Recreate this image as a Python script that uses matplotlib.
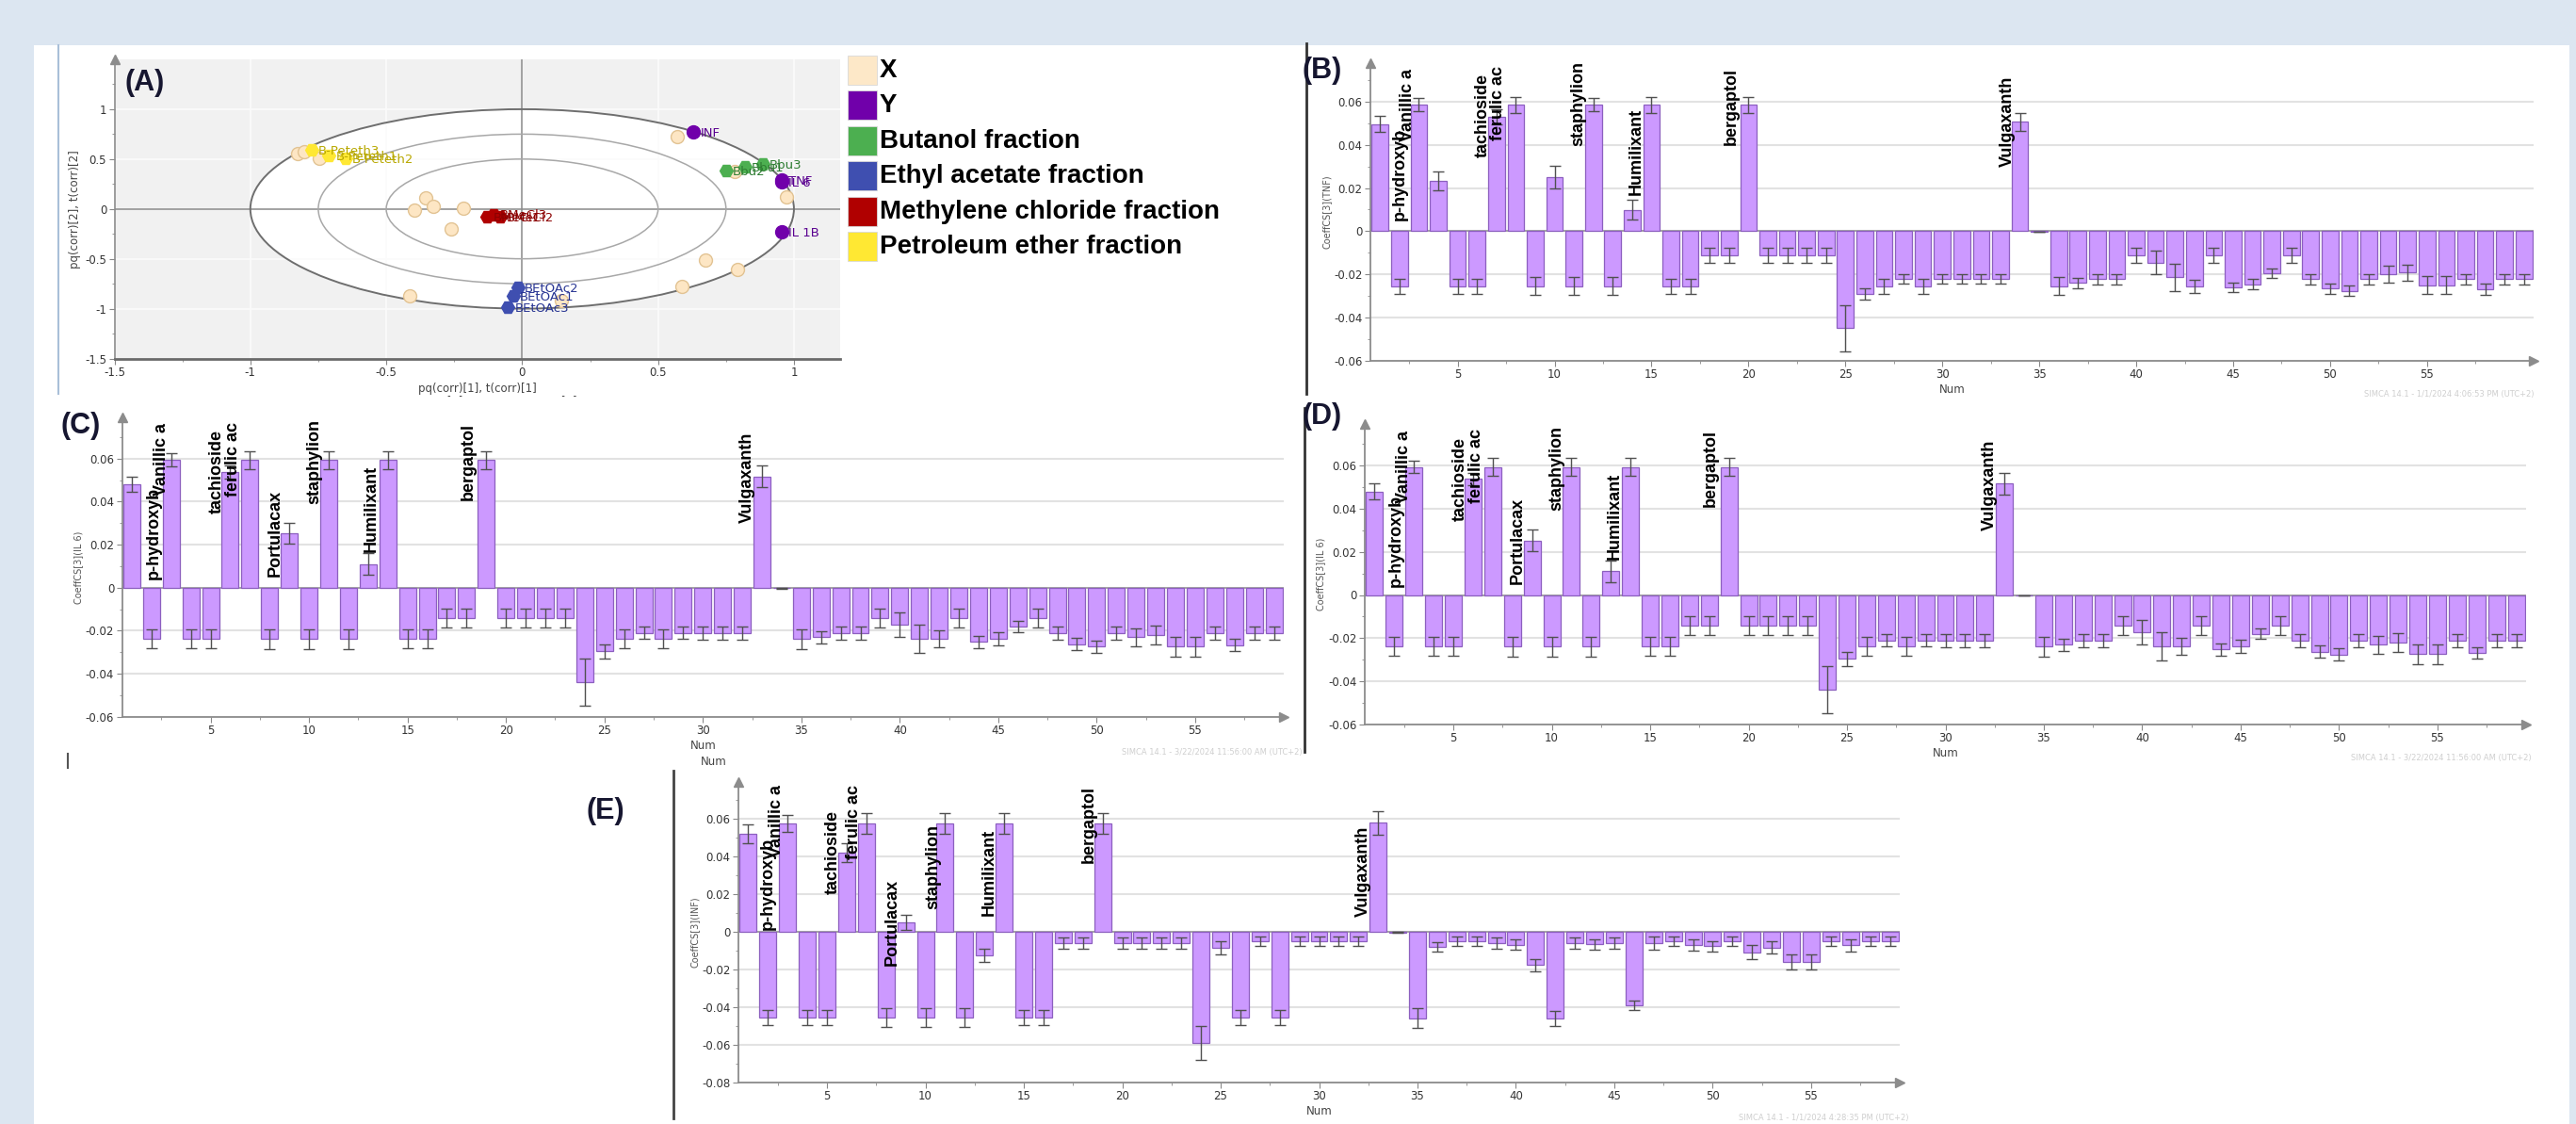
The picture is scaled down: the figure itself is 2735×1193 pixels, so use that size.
import numpy as np
import matplotlib
matplotlib.use('Agg')
import matplotlib.pyplot as plt
from matplotlib.patches import Ellipse, Rectangle
from matplotlib.lines import Line2D
from matplotlib.transforms import Bbox, TransformedBbox
from matplotlib.ticker import MultipleLocator, FixedLocator, FuncFormatter

plt.rcParams['axes.unicode_minus'] = False

# ---------------- panel A : loadings / scores (corr scaled) ----------------
x_load_x = [-0.826, -0.803, -0.748, 0.570, 0.783, 0.972, -0.354, -0.397, -0.327,
            -0.217, -0.262, 0.675, 0.792, 0.588, -0.414, 0.143]
x_load_y = [0.558, 0.574, 0.511, 0.726, 0.379, 0.120, 0.110, -0.010, 0.030,
            0.003, -0.205, -0.511, -0.603, -0.779, -0.868, -0.915]

y_names = ['INF', 'TNF', 'IL 6', 'IL 1B']
y_load_x = [0.631, 0.954, 0.954, 0.955]
y_load_y = [0.773, 0.292, 0.270, -0.230]

bu_names = ['Bbu2', 'Bbu1', 'Bbu3']
bu_x = [0.750, 0.820, 0.885]
bu_y = [0.385, 0.420, 0.448]

ea_names = ['BEtOAc2', 'BEtOAc1', 'BEtOAc3']
ea_x = [-0.015, -0.033, -0.052]
ea_y = [-0.789, -0.868, -0.987]

mc_names = ['BMeCl1', 'BMeCl3', 'BMeCl2']
mc_x = [-0.130, -0.105, -0.080]
mc_y = [-0.075, -0.055, -0.080]

pe_names = ['B-Peteth3', 'B-Peteth1', 'B-Peteth2']
pe_x = [-0.775, -0.710, -0.650]
pe_y = [0.593, 0.536, 0.510]

leg_names = ['X', 'Y', 'Butanol fraction', 'Ethyl acetate fraction',
             'Methylene chloride fraction', 'Petroleum ether fraction']
leg_colors = ['#fde8c8', '#7000aa', '#4caf50', '#3f4fb0', '#b00000', '#ffe833']

# ---------------- coefficient panels ----------------
tnf = [0.0497, -0.0255, 0.0586, 0.0233, -0.0255, -0.0255, 0.0531, 0.0586, -0.0255, 0.0252,
       -0.0255, 0.0586, -0.0255, 0.0099, 0.0586, -0.0255, -0.0255, -0.0113, -0.0113, 0.0586,
       -0.0113, -0.0113, -0.0113, -0.0113, -0.0450, -0.0290, -0.0255, -0.0223, -0.0255, -0.0223,
       -0.0223, -0.0223, -0.0223, 0.0506, -0.0003, -0.0255, -0.0240, -0.0223, -0.0223, -0.0113,
       -0.0145, -0.0214, -0.0255, -0.0113, -0.0260, -0.0247, -0.0196, -0.0113, -0.0223, -0.0266,
       -0.0276, -0.0223, -0.0200, -0.0192, -0.0250, -0.0250, -0.0223, -0.0270, -0.0223, -0.0223]
tnf_err = [0.0039, 0.0035, 0.0030, 0.0044, 0.0035, 0.0035, 0.0035, 0.0037, 0.0042, 0.0052,
           0.0042, 0.0030, 0.0042, 0.0047, 0.0037, 0.0035, 0.0035, 0.0035, 0.0035, 0.0037,
           0.0035, 0.0035, 0.0035, 0.0035, 0.0106, 0.0027, 0.0035, 0.0022, 0.0035, 0.0022,
           0.0022, 0.0022, 0.0022, 0.0041, 0.0001, 0.0041, 0.0024, 0.0024, 0.0024, 0.0035,
           0.0055, 0.0062, 0.0031, 0.0035, 0.0023, 0.0024, 0.0023, 0.0036, 0.0024, 0.0024,
           0.0025, 0.0024, 0.0039, 0.0036, 0.0042, 0.0042, 0.0024, 0.0025, 0.0024, 0.0024]

il6 = [0.0480, -0.0238, 0.0593, -0.0238, -0.0238, 0.0537, 0.0593, -0.0238, 0.0253, -0.0238,
       0.0593, -0.0238, 0.0110, 0.0593, -0.0238, -0.0238, -0.0142, -0.0142, 0.0593, -0.0142,
       -0.0142, -0.0142, -0.0142, -0.0439, -0.0296, -0.0238, -0.0210, -0.0238, -0.0210, -0.0212,
       -0.0212, -0.0212, 0.0516, -0.0003, -0.0238, -0.0230, -0.0212, -0.0212, -0.0142, -0.0173,
       -0.0238, -0.0238, -0.0142, -0.0253, -0.0238, -0.0180, -0.0142, -0.0212, -0.0263, -0.0275,
       -0.0212, -0.0230, -0.0220, -0.0274, -0.0274, -0.0212, -0.0268, -0.0212, -0.0212]
il6_err = [0.0035, 0.0042, 0.0030, 0.0042, 0.0042, 0.0030, 0.0042, 0.0046, 0.0050, 0.0046,
           0.0042, 0.0046, 0.0050, 0.0042, 0.0042, 0.0042, 0.0045, 0.0045, 0.0042, 0.0045,
           0.0045, 0.0045, 0.0045, 0.0110, 0.0033, 0.0042, 0.0028, 0.0042, 0.0028, 0.0030,
           0.0030, 0.0030, 0.0050, 0.0001, 0.0046, 0.0028, 0.0030, 0.0030, 0.0045, 0.0057,
           0.0064, 0.0038, 0.0045, 0.0030, 0.0030, 0.0025, 0.0045, 0.0030, 0.0028, 0.0028,
           0.0030, 0.0042, 0.0042, 0.0046, 0.0046, 0.0030, 0.0028, 0.0030, 0.0030]

inf = [0.0520, -0.0455, 0.0575, -0.0455, -0.0455, 0.0420, 0.0575, -0.0455, 0.0050, -0.0455,
       0.0575, -0.0455, -0.0123, 0.0575, -0.0455, -0.0455, -0.0060, -0.0060, 0.0575, -0.0060,
       -0.0060, -0.0060, -0.0060, -0.0590, -0.0085, -0.0455, -0.0050, -0.0455, -0.0050, -0.0050,
       -0.0050, -0.0050, 0.0578, -0.0003, -0.0458, -0.0080, -0.0050, -0.0050, -0.0060, -0.0068,
       -0.0177, -0.0458, -0.0060, -0.0067, -0.0060, -0.0388, -0.0060, -0.0050, -0.0072, -0.0077,
       -0.0050, -0.0108, -0.0083, -0.0160, -0.0160, -0.0050, -0.0072, -0.0050, -0.0050]
inf_err = [0.0052, 0.0040, 0.0045, 0.0040, 0.0040, 0.0050, 0.0053, 0.0050, 0.0040, 0.0050,
           0.0053, 0.0050, 0.0035, 0.0053, 0.0040, 0.0040, 0.0030, 0.0030, 0.0053, 0.0030,
           0.0030, 0.0030, 0.0030, 0.0088, 0.0033, 0.0040, 0.0025, 0.0040, 0.0025, 0.0025,
           0.0025, 0.0025, 0.0063, 0.0001, 0.0053, 0.0025, 0.0025, 0.0025, 0.0030, 0.0028,
           0.0033, 0.0040, 0.0030, 0.0029, 0.0028, 0.0025, 0.0033, 0.0025, 0.0030, 0.0029,
           0.0025, 0.0036, 0.0033, 0.0039, 0.0039, 0.0025, 0.0031, 0.0025, 0.0025]

names_b = ['p-hydroxyb', 'Vanillic a', 'tachioside', 'ferulic ac', 'staphylion',
           'Humilixant', 'bergaptol', 'Vulgaxanth']
names_b_x = [2.0, 2.4, 6.28, 7.08, 11.24, 14.2, 19.1, 33.36]
names_b_y = [0.005, 0.0415, 0.0342, 0.0422, 0.0393, 0.0167, 0.040, 0.0298]

names_c = ['p-hydroxyb', 'Vanillic a', 'tachioside', 'ferulic ac', 'Portulacax',
           'staphylion', 'Humilixant', 'bergaptol', 'Vulgaxanth']
names_c_x = [2.1, 2.5, 5.34, 6.15, 8.27, 10.26, 13.18, 18.1, 32.24]
names_c_y = [0.0037, 0.0427, 0.0344, 0.0424, 0.0051, 0.039, 0.0165, 0.0407, 0.030]

names_e_x = [2.0, 2.43, 5.3, 6.36, 8.3, 10.42, 13.26, 18.33, 32.26]
names_e_y = [0.0012, 0.0395, 0.0198, 0.0387, -0.018, 0.012, 0.0087, 0.0367, 0.0078]

W, H = 2735, 1193
fig = plt.figure(figsize=(W / 100, H / 100), dpi=100, facecolor='#dce6f1')


def box(l, t, r, b):
    return [l / W, 1 - b / H, (r - l) / W, (b - t) / H]


def fx(x):
    return x / W


def fy(y):
    return 1 - y / H


def fig_line(x0, y0, x1, y1, color, lw):
    fig.add_artist(Line2D([fx(x0), fx(x1)], [fy(y0), fy(y1)], transform=fig.transFigure,
                          color=color, lw=lw))


fmt = FuncFormatter(lambda v, p: f'{round(v, 3) + 0:g}')
BOLD = dict(family='Liberation Sans', fontweight='bold')

# white sheet
fig.patches.append(Rectangle((fx(36), 0), fx(2728) - fx(36), fy(48),
                             transform=fig.transFigure, facecolor='white',
                             edgecolor='none', zorder=-10))

# ---------------- panel A ----------------
axA = fig.add_axes(box(121.5, 63, 892, 380.5))
axA.set_facecolor('#f1f1f1')
axA.set_xlim(-1.5, 1.17)
axA.set_ylim(-1.5, 1.5)
axA.add_patch(Ellipse((0, 0), 2, 2, facecolor='white', edgecolor='none', zorder=0.4))
axA.grid(True, which='major', color='#fbfbfb', lw=1.2, zorder=0.3)
axA.set_axisbelow(True)
for r, c, lw in [(1.0, '#6e6e6e', 1.4), (0.75, '#a8a8a8', 1.1), (0.5, '#a8a8a8', 1.1)]:
    axA.add_patch(Ellipse((0, 0), 2 * r, 2 * r, facecolor='none', edgecolor=c, lw=lw, zorder=2))
axA.axhline(0, color='#8a8a8a', lw=1.1, zorder=1.5)
axA.axvline(0, color='#8a8a8a', lw=1.1, zorder=1.5)

axA.plot(x_load_x, x_load_y, 'o', ms=10, mfc='#fde6c4', mec='#e2c393', mew=1, zorder=3)

for xs, ys, nms, col, tcol, mk in [
        (pe_x, pe_y, pe_names, '#ffe833', '#b8a800', 'H'),
        (mc_x, mc_y, mc_names, '#b00000', '#8b0000', 'H'),
        (bu_x, bu_y, bu_names, '#4caf50', '#2e7d32', 'H'),
        (ea_x, ea_y, ea_names, '#3f4fb0', '#283593', 'H'),
        (y_load_x, y_load_y, y_names, '#7000aa', '#5a0090', 'o')]:
    axA.plot(xs, ys, mk, ms=10, mfc=col, mec=col, zorder=4)
    for x, y, n in zip(xs, ys, nms):
        axA.annotate(n, (x, y), xytext=(5, -1), textcoords='offset points', ha='left',
                     va='center', fontsize=9.5, color=tcol, zorder=5)

axA.xaxis.set_major_locator(FixedLocator([-1.5, -1, -0.5, 0, 0.5, 1]))
axA.xaxis.set_minor_locator(MultipleLocator(0.25))
axA.yaxis.set_major_locator(FixedLocator([-1.5, -1, -0.5, 0, 0.5, 1]))
axA.yaxis.set_minor_locator(FixedLocator(np.arange(-1.25, 1.3, 0.5)))
axA.xaxis.set_major_formatter(fmt)
axA.yaxis.set_major_formatter(fmt)
axA.tick_params(which='major', length=4, color='#888', labelsize=8.5, labelcolor='#333', pad=2)
axA.tick_params(which='minor', length=2, color='#888')
for s in ['top', 'right']:
    axA.spines[s].set_visible(False)
axA.spines['left'].set_color('#8c8c8c')
axA.spines['left'].set_linewidth(1.2)
axA.spines['bottom'].set_color('#6a6a6a')
axA.spines['bottom'].set_linewidth(2)
axA.plot([0], [1], marker='^', color='#8c8c8c', ms=7, transform=axA.transAxes, clip_on=False)
axA.set_xlabel('pq(corr)[1], t(corr)[1]', fontsize=8.5, color='#444', labelpad=3)
axA.set_ylabel('pq(corr)[2], t(corr)[2]', fontsize=8.5, color='#444', labelpad=3)
r2x = fig.text(fx(554), fy(426), 'R2X[1] = 0.34          R2X[2] = 0.24', ha='center',
               va='center', fontsize=8.5, color='#444')
r2x.set_clip_box(TransformedBbox(Bbox([[0, fy(421)], [1, 1]]), fig.transFigure))
r2x.set_clip_on(True)
fig.text(fx(154), fy(88), '(A)', ha='center', va='center', fontsize=22, color='#161630', **BOLD)

# legend
for i, (nm, col) in enumerate(zip(leg_names, leg_colors)):
    top = 59 + i * 37.4
    fig.patches.append(Rectangle((fx(900), fy(top + 31)), 31 / W, 31 / H,
                                 transform=fig.transFigure, facecolor=col,
                                 edgecolor='#d8d8d8', lw=0.6))
    fig.text(fx(934), fy(top + 16), nm, ha='left', va='center', fontsize=20, color='black', **BOLD)


# ---------------- coefficient panels ----------------
def coef_panel(rect, vals, errs, ylim, ylabel, names, nx, ny, stamp, stamp_xy):
    ax = fig.add_axes(rect)
    num = np.arange(1, len(vals) + 1)
    ax.bar(num, vals, width=0.86, color='#cc99ff', edgecolor='#8c5fbf', linewidth=0.9, zorder=3)
    ax.errorbar(num, vals, yerr=errs, fmt='none', ecolor='#505050', elinewidth=1,
                capsize=4, capthick=1, zorder=4)
    ax.set_xlim(0.5, len(vals) + 0.5)
    ax.set_ylim(*ylim)
    ax.yaxis.set_major_locator(FixedLocator(np.round(np.arange(ylim[0], 0.061, 0.02), 3)))
    ax.yaxis.set_minor_locator(MultipleLocator(0.01))
    ax.xaxis.set_major_locator(FixedLocator(np.arange(5, 56, 5)))
    ax.xaxis.set_minor_locator(FixedLocator(np.arange(2.5, len(vals), 5)))
    ax.yaxis.set_major_formatter(fmt)
    ax.yaxis.grid(True, color='#e2e2e2', lw=1.5)
    ax.set_axisbelow(True)
    ax.axhline(0, color='#9a9a9a', lw=1.2, zorder=2)
    ax.tick_params(which='major', length=4, color='#888', labelsize=8.5, labelcolor='#333', pad=2)
    ax.tick_params(which='minor', length=2.5, color='#888')
    for s in ['top', 'right']:
        ax.spines[s].set_visible(False)
    for s in ['left', 'bottom']:
        ax.spines[s].set_color('#8c8c8c')
        ax.spines[s].set_linewidth(1.3)
    ax.plot([0], [1], marker='^', color='#8c8c8c', ms=7, transform=ax.transAxes, clip_on=False)
    ax.plot([1], [0], marker='>', color='#8c8c8c', ms=7, transform=ax.transAxes, clip_on=False)
    ax.set_ylabel(ylabel, fontsize=7, color='#555', labelpad=2)
    ax.set_xlabel('Num', fontsize=8.5, color='#444', labelpad=2)
    for n, x, y in zip(names, nx, ny):
        ax.text(x, y, n, rotation=90, ha='center', va='bottom', fontsize=13, color='black',
                zorder=6, **BOLD)
    fig.text(fx(stamp_xy[0]), fy(stamp_xy[1]), stamp, ha='right', va='center',
             fontsize=6, color='#cfcfcf')
    return ax


coef_panel(box(1455, 66.7, 2690, 382.7), tnf, tnf_err, (-0.06, 0.078), 'CoeffCS[3](TNF)',
           names_b, names_b_x, names_b_y, 'SIMCA 14.1 - 1/1/2024 4:06:53 PM (UTC+2)', (2690, 418))
coef_panel(box(129.5, 443.3, 1363, 760.7), il6, il6_err, (-0.06, 0.079), 'CoeffCS[3](IL 6)',
           names_c, names_c_x, names_c_y, 'SIMCA 14.1 - 3/22/2024 11:56:00 AM (UTC+2)', (1383, 798))
coef_panel(box(1449, 450, 2682, 769), il6, il6_err, (-0.06, 0.0792), 'CoeffCS[3](IL 6)',
           names_c, names_c_x, names_c_y, 'SIMCA 14.1 - 3/22/2024 11:56:00 AM (UTC+2)', (2688, 805))
coef_panel(box(784, 830, 2017, 1149), inf, inf_err, (-0.08, 0.0795), 'CoeffCS[3](INF)',
           names_c, names_e_x, names_e_y, 'SIMCA 14.1 - 1/1/2024 4:28:35 PM (UTC+2)', (2027, 1187))

for tag, x, y in [('(B)', 1404, 75), ('(C)', 86, 452), ('(D)', 1404, 442), ('(E)', 643, 861)]:
    fig.text(fx(x), fy(y), tag, ha='center', va='center', fontsize=22, color='#161630', **BOLD)

# separators and stray marks
fig_line(1387, 46, 1387, 418, '#333333', 2)
fig_line(1385, 433, 1385, 798, '#333333', 2)
fig_line(715, 818, 715, 1187, '#444444', 2)
fig_line(62, 48, 62, 418, '#a9bfd8', 1.5)
fig_line(72, 800, 72, 815, '#555555', 1.5)
fig.text(fx(758), fy(808), 'Num', ha='center', va='center', fontsize=8.5, color='#444')

fig.savefig('out.png', dpi=100, facecolor=fig.get_facecolor())
